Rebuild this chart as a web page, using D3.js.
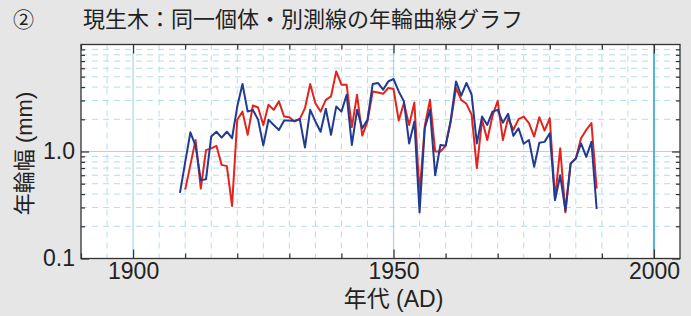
<!DOCTYPE html>
<html>
<head>
<meta charset="utf-8">
<script src="https://cdn.jsdelivr.net/npm/d3@7"></script>
<style>
  body { margin: 0; background: #e6e6e6; }
  svg { display: block; }
  .tick text { font-family: "Liberation Sans", Arial, sans-serif; font-size: 23px; fill: #222; }
</style>
</head>
<body>
<svg id="chart"></svg>
<script>
// Ring width (mm) of a living tree, two measuring lines of the same individual
const years = [
  1909, 1910, 1911, 1912, 1913, 1914, 1915, 1916, 1917, 1918, 1919,
  1920, 1921, 1922, 1923, 1924, 1925, 1926, 1927, 1928, 1929,
  1930, 1931, 1932, 1933, 1934, 1935, 1936, 1937, 1938, 1939,
  1940, 1941, 1942, 1943, 1944, 1945, 1946, 1947, 1948, 1949,
  1950, 1951, 1952, 1953, 1954, 1955, 1956, 1957, 1958, 1959,
  1960, 1961, 1962, 1963, 1964, 1965, 1966, 1967, 1968, 1969,
  1970, 1971, 1972, 1973, 1974, 1975, 1976, 1977, 1978, 1979,
  1980, 1981, 1982, 1983, 1984, 1985, 1986, 1987, 1988, 1989
];
const blueWidths = [
  0.41, 0.79, 1.51, 1.13, 0.54, 0.55, 1.38, 1.53, 1.35, 1.53, 1.33,
  2.63, 4.27, 2.36, 2.45, 1.98, 1.14, 1.98, 1.77, 1.59, 1.95,
  1.95, 1.93, 2.01, 1.09, 2.45, 1.91, 1.53, 2.51, 1.43, 2.63,
  2.36, 3.39, 1.15, 2.45, 1.65, 1.98, 4.27, 4.37, 3.78, 4.52,
  4.76, 3.64, 2.94, 1.19, 1.91, 0.27, 1.65, 2.45, 0.60, 1.15,
  1.13, 1.98, 4.52, 3.32, 4.37, 3.39, 1.19, 2.12, 1.77, 2.36,
  2.45, 1.86, 2.25, 1.40, 1.65, 1.18, 1.28, 0.72, 1.21, 1.23,
  1.48, 0.35, 0.60, 0.28, 0.77, 0.86, 1.19, 0.89, 1.23, 0.29
];
const redWidths = [
  null, 0.44, 0.75, 1.28, 0.45, 1.03, 1.07, 1.13, 0.75, 0.73, 0.31,
  1.98, 2.36, 1.43, 2.69, 2.58, 1.77, 2.73, 2.45, 2.94, 2.12,
  2.09, 1.91, 2.01, 2.54, 4.27, 2.83, 2.36, 3.04, 3.27, 5.61,
  4.21, 4.21, 1.69, 3.39, 1.41, 1.91, 3.64, 3.56, 3.46, 3.92,
  3.84, 1.95, 2.83, 1.77, 2.87, 0.40, 1.73, 3.04, 1.00, 1.00,
  1.13, 1.91, 3.92, 3.04, 2.79, 2.20, 0.70, 1.98, 1.28, 2.15,
  2.98, 1.28, 2.05, 1.59, 2.01, 2.12, 1.84, 1.38, 2.09, 1.57,
  2.05, 0.36, 1.07, 0.27, 0.77, 0.86, 1.33, 1.59, 1.84, 0.45
];

const xLabelTicks = [1900, 1950, 2000];
const xMinorTicks = [1890, 1910, 1920, 1930, 1940, 1960, 1970, 1980, 1990];
const xGridYears = [1895, 1905, 1910, 1915, 1920, 1925, 1930, 1935, 1940, 1945,
                    1955, 1960, 1965, 1970, 1975, 1980, 1985, 1990, 1995];
const xSolidGrid = [1900, 1950];
const yLabelTicks = [0.1, 1.0];
const yLabelText = ['0.1', '1.0'];
const yMinorTicks = [0.2, 0.3, 0.4, 0.5, 0.6, 0.7, 0.8, 0.9, 2, 3, 4, 5, 6, 7, 8, 9];

const WIDTH = 691, HEIGHT = 316;
const plot = { left: 81, right: 680, top: 44.5, bottom: 258.5 };

const svg = d3.select('#chart')
    .attr('width', WIDTH)
    .attr('height', HEIGHT);

svg.append('rect')
    .attr('width', WIDTH).attr('height', HEIGHT)
    .attr('fill', '#e6e6e6');

let xScale = d3.scaleLinear()
    .domain([1890, 2005])
    .range([plot.left, plot.right]);

let yScale = d3.scaleLog()
    .domain([0.1, 10])
    .range([plot.bottom, plot.top]);

svg.append('rect')
    .attr('x', plot.left).attr('y', plot.top)
    .attr('width', plot.right - plot.left)
    .attr('height', plot.bottom - plot.top)
    .attr('fill', '#fff');

// grid
const gridColor = '#b5dcea';
let grid = svg.append('g');
grid.selectAll('.vdash')
    .data(xGridYears)
    .enter().append('line')
    .attr('x1', d => xScale(d)).attr('x2', d => xScale(d))
    .attr('y1', plot.top).attr('y2', plot.bottom)
    .attr('stroke', gridColor).attr('stroke-width', 1)
    .attr('stroke-dasharray', '6,5');
grid.selectAll('.hdash')
    .data(yMinorTicks)
    .enter().append('line')
    .attr('x1', plot.left).attr('x2', plot.right)
    .attr('y1', d => yScale(d)).attr('y2', d => yScale(d))
    .attr('stroke', gridColor).attr('stroke-width', 1)
    .attr('stroke-dasharray', '6,5');
grid.selectAll('.vsolid')
    .data(xSolidGrid)
    .enter().append('line')
    .attr('x1', d => xScale(d)).attr('x2', d => xScale(d))
    .attr('y1', plot.top).attr('y2', plot.bottom)
    .attr('stroke', '#a9d6e6').attr('stroke-width', 1.2);
grid.append('line')
    .attr('x1', plot.left).attr('x2', plot.right)
    .attr('y1', yScale(1)).attr('y2', yScale(1))
    .attr('stroke', '#a9d6e6').attr('stroke-width', 1.2);
grid.append('line')
    .attr('x1', xScale(2000)).attr('x2', xScale(2000))
    .attr('y1', plot.top).attr('y2', plot.bottom)
    .attr('stroke', '#52b3da').attr('stroke-width', 2);

// series
let line = d3.line()
    .defined(d => d[1] != null)
    .x(d => xScale(d[0]))
    .y(d => yScale(d[1]));

svg.append('path')
    .datum(years.map((yr, i) => [yr, redWidths[i]]))
    .attr('fill', 'none')
    .attr('stroke', '#e3241d')
    .attr('stroke-width', 2)
    .attr('stroke-linejoin', 'round')
    .attr('d', line);

svg.append('path')
    .datum(years.map((yr, i) => [yr, blueWidths[i]]))
    .attr('fill', 'none')
    .attr('stroke', '#203b91')
    .attr('stroke-width', 2)
    .attr('stroke-linejoin', 'round')
    .attr('d', line);

// axes: inward ticks on all four sides
function addAxis(axis, transform) {
    let g = svg.append('g')
        .attr('transform', transform)
        .call(axis);
    g.select('.domain').remove();
    g.selectAll('.tick line').attr('stroke', '#333').attr('stroke-width', 1.2);
    return g;
}
const tickColor = '#333';
addAxis(d3.axisBottom(xScale).tickValues(xMinorTicks).tickSize(-5).tickFormat(''), `translate(0,${plot.bottom})`);
addAxis(d3.axisTop(xScale).tickValues(xMinorTicks).tickSize(-5).tickFormat(''), `translate(0,${plot.top})`);
addAxis(d3.axisBottom(xScale).tickValues(xLabelTicks).tickSize(-9).tickPadding(4).tickFormat(d3.format('d')), `translate(0,${plot.bottom})`);
addAxis(d3.axisTop(xScale).tickValues(xLabelTicks).tickSize(-9).tickFormat(''), `translate(0,${plot.top})`);

addAxis(d3.axisLeft(yScale).tickValues(yMinorTicks).tickSize(-4).tickFormat(''), `translate(${plot.left},0)`);
addAxis(d3.axisRight(yScale).tickValues(yMinorTicks).tickSize(-4).tickFormat(''), `translate(${plot.right},0)`);
addAxis(d3.axisLeft(yScale).tickValues(yLabelTicks).tickSize(-8).tickPadding(6)
    .tickFormat((d, i) => yLabelText[i]), `translate(${plot.left},0)`);
addAxis(d3.axisRight(yScale).tickValues(yLabelTicks).tickSize(-8).tickFormat(''), `translate(${plot.right},0)`);

svg.append('rect')
    .attr('x', plot.left).attr('y', plot.top)
    .attr('width', plot.right - plot.left)
    .attr('height', plot.bottom - plot.top)
    .attr('fill', 'none')
    .attr('stroke', tickColor)
    .attr('stroke-width', 1.3);

// titles
const jpFont = '"Liberation Sans", "Noto Sans CJK JP", sans-serif';
svg.append('text')
    .attr('x', 13).attr('y', 27)
    .style('font-family', jpFont).style('font-size', '21px').style('fill', '#222')
    .text('②');
svg.append('text')
    .attr('x', 83).attr('y', 27)
    .style('font-family', '"Noto Sans CJK JP", sans-serif').style('font-size', '22px').style('fill', '#222')
    .text('現生木：同一個体・別測線の年輪曲線グラフ');

svg.append('text')
    .attr('x', xScale(1950)).attr('y', 307)
    .attr('text-anchor', 'middle')
    .style('font-family', jpFont).style('font-size', '23px').style('fill', '#222')
    .text('年代 (AD)');

svg.append('text')
    .attr('transform', `translate(32,${yScale(1) + 2}) rotate(-90)`)
    .attr('text-anchor', 'middle')
    .style('font-family', jpFont).style('font-size', '22px').style('fill', '#222')
    .text('年輪幅 (mm)');
</script>
</body>
</html>
